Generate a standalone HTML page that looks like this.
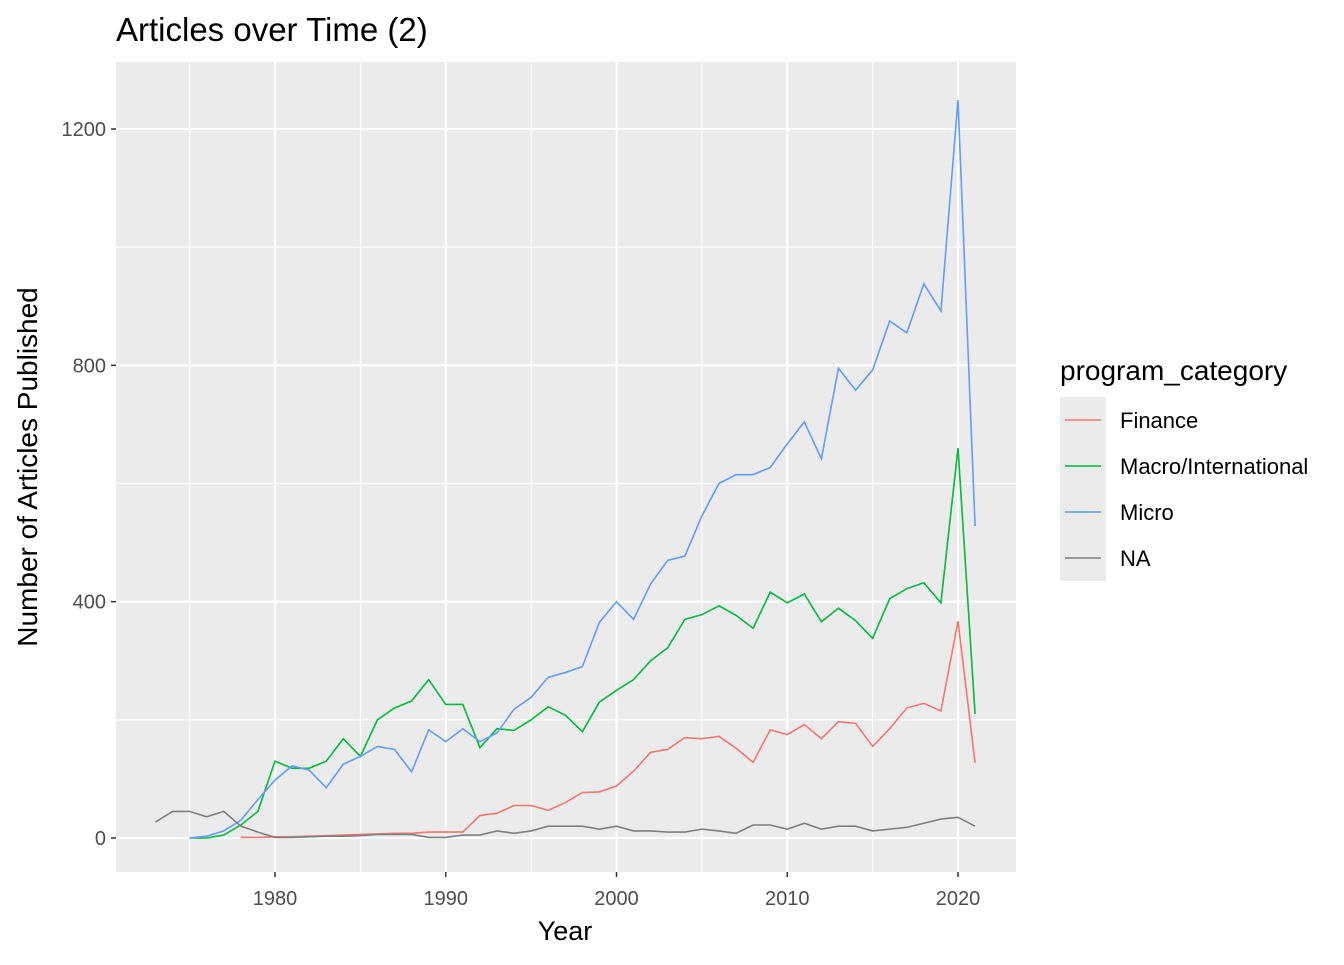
<!DOCTYPE html>
<html><head><meta charset="utf-8"><style>
body{margin:0;background:#fff;font-family:"Liberation Sans",Arial,sans-serif}
svg text{font-family:"Liberation Sans",Arial,sans-serif}
</style></head><body>
<svg id="c" width="1344" height="960" xmlns="http://www.w3.org/2000/svg">
<rect width="1344" height="960" fill="#fff"/>
<text x="116" y="41" font-size="33" fill="#000">Articles over Time (2)</text>
<rect x="116" y="62" width="900" height="810" fill="#ebebeb"/>
<g id="grid"></g><g id="lines"></g><g id="axes"></g>
<text x="565" y="940" font-size="27" text-anchor="middle" fill="#000">Year</text>
<text transform="translate(37,467) rotate(-90)" font-size="28" text-anchor="middle" fill="#000">Number of Articles Published</text>
<text x="1060" y="380" font-size="28" fill="#000">program_category</text>
<g id="legend"></g>
</svg>
<script>
const years = [];for(let y=1973;y<=2021;y++)years.push(y);
const financeYears=[1978,1979,1980,1981,1982,1983,1984,1985,1986,1987,1988,1989,1990,1991,1992,1993,1994,1995,1996,1997,1998,1999,2000,2001,2002,2003,2004,2005,2006,2007,2008,2009,2010,2011,2012,2013,2014,2015,2016,2017,2018,2019,2020,2021];
const financeVals=[1,1,2,2,3,4,5,6,7,8,8,10,10,10,38,42,55,55,47,60,77,78,88,113,145,150,170,168,172,152,128,183,175,192,168,197,194,155,185,220,228,215,367,127];
const macroYears=[1975,1976,1977,1978,1979,1980,1981,1982,1983,1984,1985,1986,1987,1988,1989,1990,1991,1992,1993,1994,1995,1996,1997,1998,1999,2000,2001,2002,2003,2004,2005,2006,2007,2008,2009,2010,2011,2012,2013,2014,2015,2016,2017,2018,2019,2020,2021];
const macroVals=[0,0,5,22,45,130,118,118,130,168,138,200,220,232,268,226,226,153,185,182,200,222,208,180,230,250,268,300,322,370,378,393,377,355,416,398,413,366,389,368,338,405,422,432,398,660,210];
const microYears=macroYears;
const microVals=[0,3,12,30,65,98,122,115,85,125,138,155,150,112,183,163,185,163,178,218,238,272,280,290,365,400,370,430,470,477,545,600,615,615,627,667,704,642,795,758,792,875,855,938,892,1249,528];
const naYears=years;
const naVals=[27,45,45,36,45,20,10,1,1,2,3,3,4,6,6,6,1,1,5,5,12,8,12,20,20,20,15,20,12,12,10,10,15,12,8,22,22,15,25,15,20,20,12,15,18,25,32,35,20];
const xTicks=[1980,1990,2000,2010,2020];
const yTicks=[0,400,800,1200];
const seriesNames=["Finance","Macro/International","Micro","NA"];
const colors=["#F8766D","#00BA38","#619CFF","#7F7F7F"];
const X=y=>275+(y-1980)*(958-275)/40;
const Y=v=>838-v*709/1200;
const NS="http://www.w3.org/2000/svg";
function mk(t,a,p){const e=document.createElementNS(NS,t);for(const k in a)e.setAttribute(k,a[k]);p.appendChild(e);return e;}
const grid=document.getElementById('grid'),axes=document.getElementById('axes');
for(let y=1975;y<=2015;y+=10){const l=mk('line',{x1:X(y),x2:X(y),y1:62,y2:872,stroke:'#fff','stroke-width':1},grid);

}
for(let v=200;v<=1000;v+=400){const l=mk('line',{x1:116,x2:1016,y1:Y(v),y2:Y(v),stroke:'#fff','stroke-width':1},grid);

}
xTicks.forEach(t=>{const l=mk('line',{x1:X(t),x2:X(t),y1:62,y2:872,stroke:'#fff','stroke-width':2},grid);


const k=mk('line',{x1:X(t),x2:X(t),y1:872,y2:877,stroke:'#333','stroke-width':1.5},axes);


const tx=mk('text',{x:X(t),y:905,'font-size':20,'text-anchor':'middle',fill:'#4d4d4d'},axes);tx.textContent=t;

});
yTicks.forEach(t=>{const l=mk('line',{x1:116,x2:1016,y1:Y(t),y2:Y(t),stroke:'#fff','stroke-width':2},grid);


const k=mk('line',{x1:111,x2:116,y1:Y(t),y2:Y(t),stroke:'#333','stroke-width':1.5},axes);


const tx=mk('text',{x:106,y:Y(t)+7,'font-size':20,'text-anchor':'end',fill:'#4d4d4d'},axes);tx.textContent=t;

});
const data=[[financeYears,financeVals],[macroYears,macroVals],[microYears,microVals],[naYears,naVals]];
const lg=document.getElementById('lines'),leg=document.getElementById('legend');
data.forEach((d,i)=>{const pts=d[0].map((y,j)=>X(y)+','+Y(d[1][j])).join(' ');
const p=mk('polyline',{points:pts,fill:'none',stroke:colors[i],'stroke-width':1.6},lg);


const ky=397+i*46;
const b=mk('rect',{x:1060,y:ky,width:46,height:46,fill:'#ebebeb'},leg);


const kl=mk('line',{x1:1065,x2:1101,y1:ky+23,y2:ky+23,stroke:colors[i],'stroke-width':1.6},leg);


const t=mk('text',{x:1120,y:ky+31,'font-size':22,fill:'#000'},leg);t.textContent=seriesNames[i];

});
</script>
</body></html>
